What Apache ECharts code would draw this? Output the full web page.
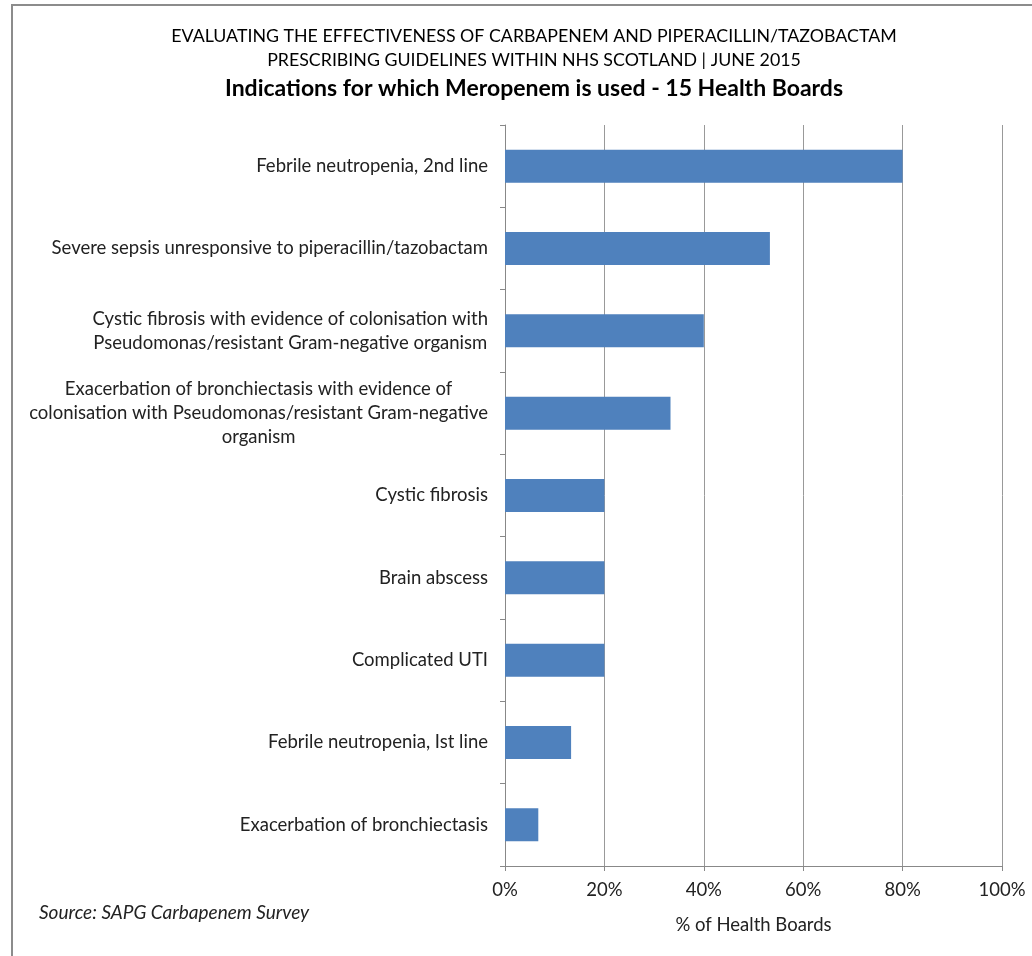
<!DOCTYPE html>
<html>
<head>
<meta charset="utf-8">
<script src="https://cdn.jsdelivr.net/npm/echarts@6/dist/echarts.min.js"></script>
<style>
  html, body { margin: 0; padding: 0; background: #fff; }
  #chart { width: 1032px; height: 956px; }
</style>
</head>
<body>
<div id="chart"></div>
<script>
// Indications, top to bottom as they appear in the picture
const indications = [
    'Febrile neutropenia, 2nd line',
    'Severe sepsis unresponsive to piperacillin/tazobactam',
    'Cystic fibrosis with evidence of colonisation with\nPseudomonas/resistant Gram-negative organism',
    'Exacerbation of bronchiectasis with evidence of\ncolonisation with Pseudomonas/resistant Gram-negative\norganism',
    'Cystic fibrosis',
    'Brain abscess',
    'Complicated UTI',
    'Febrile neutropenia, Ist line',
    'Exacerbation of bronchiectasis'
];
// % of the 15 health boards
const percentBoards = [80, 53.3, 40, 33.3, 20, 20, 20, 13.3, 6.7];
const xTicks = [0, 20, 40, 60, 80, 100];

const FONT = 'Lato';
const chart = echarts.init(document.getElementById('chart'));

const option = {
    backgroundColor: '#fff',
    animation: false,
    title: [
        {
            text: 'EVALUATING THE EFFECTIVENESS OF CARBAPENEM AND PIPERACILLIN/TAZOBACTAM\nPRESCRIBING GUIDELINES WITHIN NHS SCOTLAND | JUNE 2015',
            left: 529, top: 19, textAlign: 'center',
            textStyle: { fontFamily: FONT, fontSize: 17.8, fontWeight: 'normal', color: '#000', lineHeight: 24 }
        },
        {
            text: 'Indications for which Meropenem is used - 15 Health Boards',
            left: 529, top: 72, textAlign: 'center',
            textStyle: { fontFamily: FONT, fontSize: 23, fontWeight: 'bold', color: '#000' }
        },
        {
            text: 'Source: SAPG Carbapenem Survey',
            left: 34, top: 898,
            textStyle: { fontFamily: FONT, fontSize: 19, fontStyle: 'italic', fontWeight: 'normal', color: '#222' }
        }
    ],
    graphic: [{
        type: 'rect',
        shape: { x: 12, y: 5, width: 1040, height: 980 },
        style: { fill: 'none', stroke: '#8c8c8c', lineWidth: 2 },
        silent: true
    }],
    grid: { left: 505, right: 30, top: 125, bottom: 90, containLabel: false },
    xAxis: {
        type: 'value',
        min: 0, max: 100, interval: 20,
        name: '% of Health Boards',
        nameLocation: 'middle',
        nameGap: 50,
        nameTextStyle: { fontFamily: FONT, fontSize: 18.5, color: '#222' },
        axisLine: { show: true, lineStyle: { color: '#888', width: 1 } },
        axisTick: { show: true, length: 5, lineStyle: { color: '#888' } },
        axisLabel: {
            fontFamily: FONT, fontSize: 18.5, color: '#222', margin: 15,
            formatter: v => xTicks.includes(v) ? v + '%' : ''
        },
        splitLine: { show: true, lineStyle: { color: '#999', width: 1 } }
    },
    yAxis: {
        type: 'category',
        inverse: true,
        data: indications,
        axisLine: { show: true, lineStyle: { color: '#888', width: 1 } },
        axisTick: { show: true, length: 5, lineStyle: { color: '#888' } },
        axisLabel: {
            margin: 17,
            align: 'right',
            formatter: v => v.split('\n').map(s => '{c|' + s + '}').join('\n'),
            rich: {
                c: { fontFamily: FONT, fontSize: 18.5, color: '#222', align: 'center', lineHeight: 24 }
            }
        }
    },
    series: [{
        type: 'bar',
        data: percentBoards,
        barCategoryGap: '60%',
        itemStyle: { color: '#4F81BD' }
    }]
};

chart.setOption(option);
</script>
</body>
</html>
